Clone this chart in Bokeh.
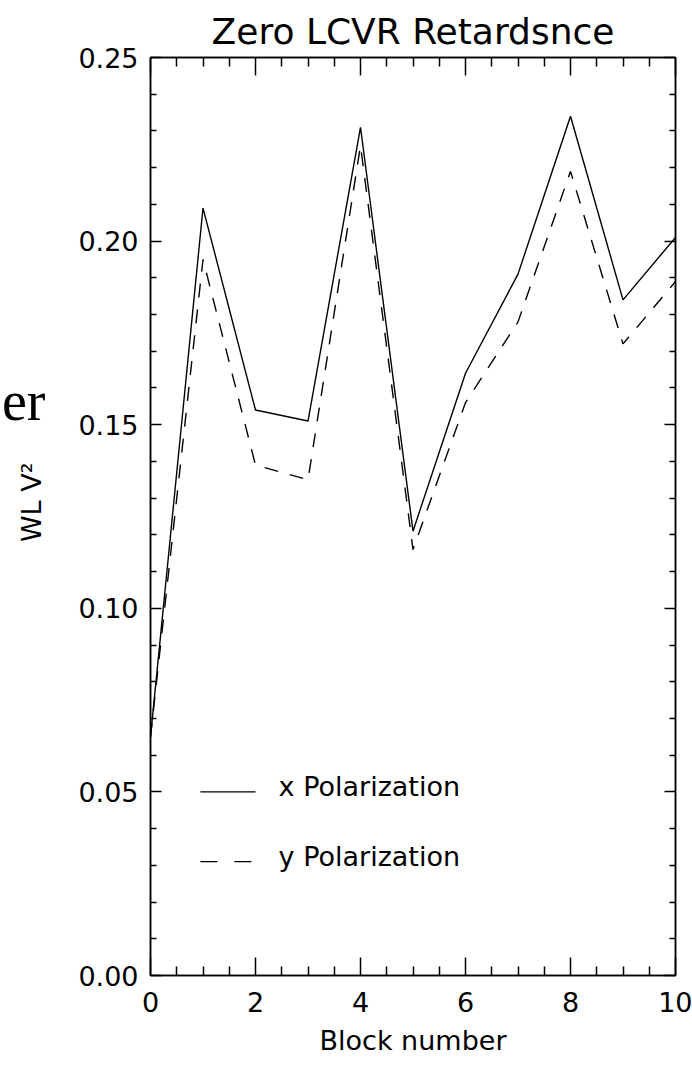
import math
from bokeh.plotting import figure
from bokeh.layouts import row
from bokeh.models import Range1d, LinearAxis, FixedTicker, PrintfTickFormatter, CustomJSTickFormatter
from bokeh.core.properties import value
from bokeh.embed import file_html
from bokeh.resources import INLINE

# ---- data ----
block = [0, 1, 2, 3, 4, 5, 6, 7, 8, 9, 10]
x_polarization = [0.065, 0.209, 0.154, 0.151, 0.231, 0.121, 0.164, 0.191, 0.234, 0.184, 0.201]
y_polarization = [0.065, 0.195, 0.139, 0.135, 0.226, 0.116, 0.156, 0.178, 0.219, 0.172, 0.189]

x_ticks = [0, 2, 4, 6, 8, 10]
x_minor = [i * 0.5 for i in range(21) if i % 4]
y_ticks = [0.00, 0.05, 0.10, 0.15, 0.20, 0.25]
y_minor = [i * 0.01 for i in range(26) if i % 5]

title_text = "Zero LCVR Retardsnce"
x_label = "Block number"
y_label = "WL V\u00b2"
legend_labels = ["x Polarization", "y Polarization"]
page_fragment = "er"

FONT = "DejaVu Sans"
FS = "27px"
H = 1065
LEFT_W = 60

# ---- narrow strip on the left: page text fragment and y-axis title ----
side = figure(width=LEFT_W, height=H, x_range=Range1d(0, LEFT_W), y_range=Range1d(H, 0),
              output_backend="svg", toolbar_location=None,
              x_axis_location=None, y_axis_location=None,
              min_border_left=0, min_border_right=0, min_border_top=0, min_border_bottom=0)
side.grid.visible = False
side.outline_line_color = None
side.background_fill_color = "white"
side.border_fill_color = "white"
side.text(x=[45], y=[398], text=[page_fragment], text_font=value("Liberation Serif"),
          text_font_size="56px", text_align="right", text_baseline="alphabetic",
          text_color="black")
side.text(x=[31], y=[516], text=[y_label], text_font=value(FONT), text_font_size=FS,
          text_align="center", text_baseline="middle", angle=math.pi / 2, text_color="black")

# ---- main plot ----
p = figure(width=692 - LEFT_W, height=H, x_range=Range1d(0, 10), y_range=Range1d(0, 0.25),
           output_backend="svg", toolbar_location=None,
           min_border_left=150 - LEFT_W, min_border_right=17, min_border_top=57, min_border_bottom=90)

p.grid.visible = False
p.background_fill_color = "white"
p.border_fill_color = "white"
p.outline_line_color = "black"
p.outline_line_width = 1.5

p.title.text = title_text
p.title.align = "center"
p.title.text_font = FONT
p.title.text_font_size = "36px"
p.title.text_font_style = "normal"
p.title.text_color = "black"
p.title.standoff = 11


def style_axis(ax, ticks, minor, tick_in, minor_in, labels=True):
    ax.ticker = FixedTicker(ticks=ticks, minor_ticks=minor)
    ax.major_tick_in = tick_in
    ax.major_tick_out = 0
    ax.minor_tick_in = minor_in
    ax.minor_tick_out = 0
    ax.axis_line_color = "black"
    ax.axis_line_width = 1.5
    ax.major_tick_line_color = "black"
    ax.major_tick_line_width = 1.5
    ax.minor_tick_line_color = "black"
    ax.minor_tick_line_width = 1.5
    ax.major_label_text_font = FONT
    ax.major_label_text_color = "black"
    if labels:
        ax.major_label_text_font_size = FS
    else:
        ax.formatter = CustomJSTickFormatter(code="return ''")
        ax.major_label_text_font_size = "1px"
        ax.major_label_standoff = 0


xa = p.xaxis[0]
style_axis(xa, x_ticks, x_minor, 18, 9)
xa.major_label_standoff = 16
xa.axis_label = x_label
xa.axis_label_text_font = FONT
xa.axis_label_text_font_size = FS
xa.axis_label_text_font_style = "normal"
xa.axis_label_text_color = "black"
xa.axis_label_standoff = 10

ya = p.yaxis[0]
style_axis(ya, y_ticks, y_minor, 11, 6)
ya.formatter = PrintfTickFormatter(format="%.2f")
ya.major_label_standoff = 12

top = LinearAxis()
style_axis(top, x_ticks, x_minor, 18, 9, labels=False)
p.add_layout(top, "above")
right = LinearAxis()
style_axis(right, y_ticks, y_minor, 11, 6, labels=False)
p.add_layout(right, "right")

# data lines
p.line(block, x_polarization, line_color="black", line_width=1.4)
p.line(block, y_polarization, line_color="black", line_width=1.4, line_dash="14 12")

# legend drawn inside plot
p.line([0.95, 2.0], [0.050, 0.050], line_color="black", line_width=1.4)
p.line([0.95, 1.97], [0.031, 0.031], line_color="black", line_width=1.4, line_dash="17 17")
p.text(x=[2.44, 2.44], y=[0.0515, 0.0325], text=legend_labels, text_font=value(FONT),
       text_font_size=FS, text_baseline="middle", text_align="left", text_color="black")

layout = row(side, p)
open("out.html", "w").write(file_html(layout, INLINE))
